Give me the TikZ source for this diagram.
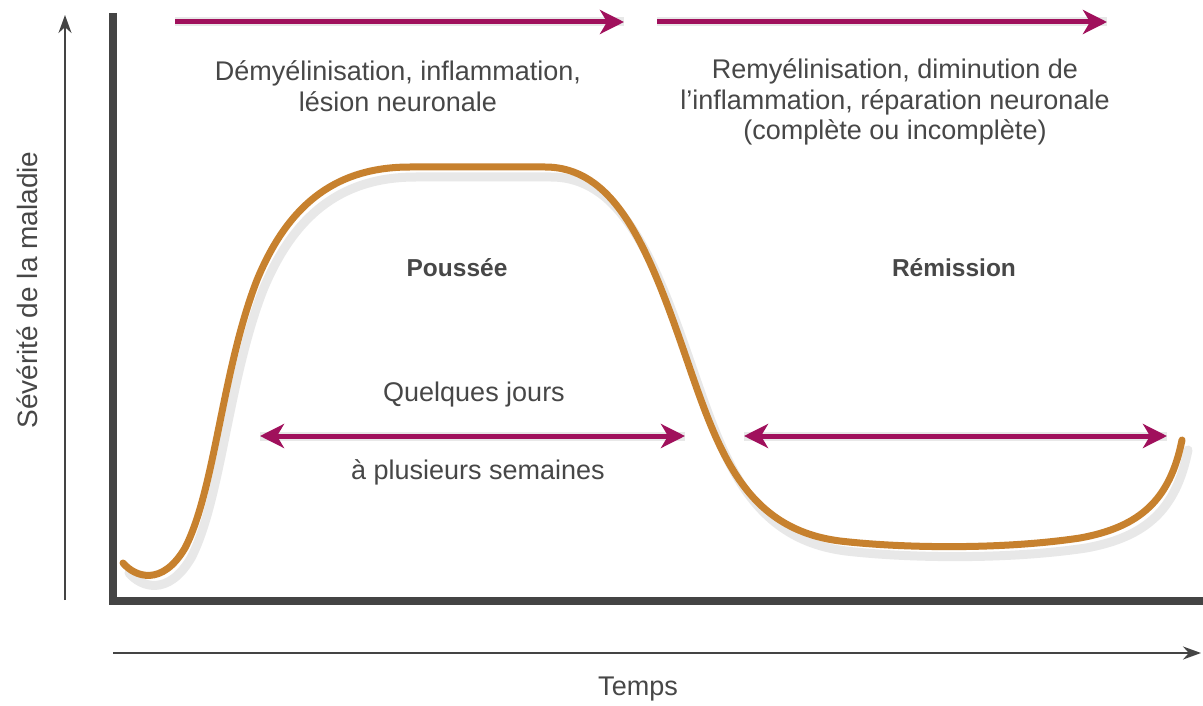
\documentclass[tikz,border=0pt]{standalone}
\usepackage{fontspec}
\setmainfont{Liberation Sans}
\usetikzlibrary{arrows.meta}
\usetikzlibrary{positioning}
\definecolor{phasecol}{HTML}{A0105C}
\definecolor{courbecol}{HTML}{C7812E}
\definecolor{axecol}{HTML}{444444}
\definecolor{textecol}{HTML}{474747}
\tikzset{every node/.style={ % Sets the look of every text
      text=textecol,
      font=\fontsize{27}{30.5}\selectfont,
      align=center},
      titre/.style={font=\fontsize{24.5}{30}\selectfont\bfseries}, % Phase names
      phase/.style={ % Magenta arrows
      draw=phasecol, line width=5pt,
      -{Stealth[length=24pt,width=24pt,inset=7pt]}},
      duree/.style={phase, {Stealth[length=24pt,width=24pt,inset=7pt]}-{Stealth[length=24pt,width=24pt,inset=7pt]}},
      ombre/.style={draw=black!9, line width=9pt}, % Soft shadow under lines
      axe/.style={draw=axecol, line width=2pt, -{Stealth[length=18pt,width=13pt]}},
      cadre/.style={draw=axecol, line width=8pt},
      courbe/.style={draw=courbecol, line width=7pt, line cap=round}}

\begin{document}
\begin{tikzpicture}[x=1pt, y=-1pt]
      \fill[white] (0,0) rectangle (1203,706);
      \useasboundingbox (0,0) rectangle (1203,706);
      % axes
      \coordinate (yb) at (65,600);
      \coordinate (yt) at (65,15);
      \coordinate (xl) at (113,653);
      \coordinate (xr) at (1201,653);
      \draw[axe] (yb) -- (yt);
      \draw[axe] (xl) -- (xr);
      \draw[cadre] (113,13) -- (113,601) -- (1203,601);
      \node[rotate=90, font=\fontsize{28}{30}\selectfont] (severite) at (27,290) {Sévérité de la maladie};
      \node (temps) at (638,689) {Temps};
      % phase arrows
      \coordinate (p1a) at (175,22);
      \coordinate (p1b) at (624,22);
      \coordinate (p2a) at (657,22);
      \coordinate (p2b) at (1107,22);
      \coordinate (d1a) at (260,436);
      \coordinate (d1b) at (685,436);
      \coordinate (d2a) at (744,436);
      \coordinate (d2b) at (1167,436);
      \begin{scope}[shift={(4,9)}]
            \draw[ombre] (p1a) -- (p1b);
            \draw[ombre] (p2a) -- (p2b);
            \draw[ombre] (d1a) -- (d1b);
            \draw[ombre] (d2a) -- (d2b);
      \end{scope}
      \draw[phase] (p1a) -- (p1b);
      \draw[phase] (p2a) -- (p2b);
      \draw[duree] (d1a) -- (d1b);
      \draw[duree] (d2a) -- (d2b);
      % disease curve
      \begin{scope}[shift={(6,10)}]
            \draw[ombre, line cap=round] (123,563) .. controls (135,577) and (162,587) .. (185,548)
                  .. controls (215,490) and (222,370) .. (257,280)
                  .. controls (290,200) and (340,167) .. (410,167) -- (545,167)
                  .. controls (612,167) and (645,240) .. (680,340)
                  .. controls (715,440) and (738,528) .. (840,541)
                  .. controls (900,548) and (1000,550) .. (1080,538)
                  .. controls (1140,527) and (1170,500) .. (1182,440);
      \end{scope}
      \draw[courbe] (123,563) .. controls (135,577) and (162,587) .. (185,548)
            .. controls (215,490) and (222,370) .. (257,280)
            .. controls (290,200) and (340,167) .. (410,167) -- (545,167)
            .. controls (612,167) and (645,240) .. (680,340)
            .. controls (715,440) and (738,528) .. (840,541)
            .. controls (900,548) and (1000,550) .. (1080,538)
            .. controls (1140,527) and (1170,500) .. (1182,440);
      % texts
      \node (lesion) at (398,86) {Démyélinisation, inflammation,\\lésion neuronale};
      \node (reparation) at (895,102) {Remyélinisation, diminution de\\l’inflammation, réparation neuronale\\(complète ou incomplète)};
      \node[titre] (poussee) at (457,268) {Poussée};
      \node[titre] (remission) at (954,268) {Rémission};
      \node (jours) at (474,395) {Quelques jours};
      \node (semaines) at (478,472) {à plusieurs semaines};
\end{tikzpicture}
\end{document}
